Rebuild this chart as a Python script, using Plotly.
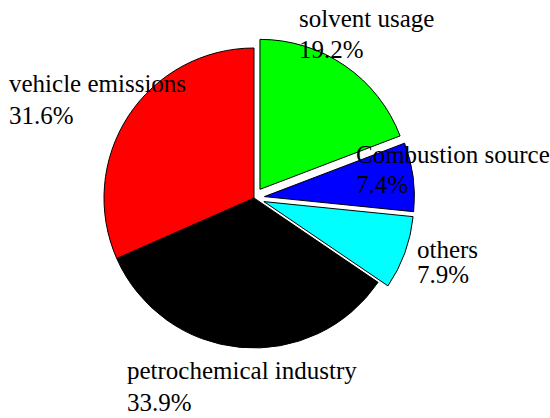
import plotly.graph_objects as go

categories = ["solvent usage", "Combustion source", "others", "petrochemical industry", "vehicle emissions"]
values = [19.2, 7.4, 7.9, 33.9, 31.6]
colors = ["#00FF00", "#0000FF", "#00FFFF", "#000000", "#FF0000"]
pulls = [0.07, 0.07, 0.07, 0, 0]

W, H = 550, 418
# label placement in pixels: left edge, baseline of name line, baseline of percent line
label_left = [298, 355, 416, 126, 8]
name_base = [26, 162, 257, 378, 92]
pct_base = [57, 192, 282, 410, 123]

cx, cy, D = 254, 198, 321
FS = 25

fig = go.Figure(go.Pie(
    labels=categories,
    values=values,
    sort=False,
    direction="clockwise",
    rotation=0,
    pull=pulls,
    marker=dict(colors=colors, line=dict(color="#000000", width=1)),
    textinfo="none",
    hoverinfo="label+percent",
    showlegend=False,
    domain=dict(x=[(cx - D / 2) / W, (cx + D / 2) / W],
                y=[1 - (cy + D / 2) / H, 1 - (cy - D / 2) / H]),
))

font = dict(family="Liberation Serif", size=FS, color="#000000")
for name, val, lx, nb, pb in zip(categories, values, label_left, name_base, pct_base):
    for txt, base in ((name, nb), (f"{val:.1f}%", pb)):
        fig.add_annotation(
            x=lx / W, y=1 - (base - 8) / H, xref="paper", yref="paper",
            text=txt, showarrow=False, xanchor="left", yanchor="middle",
            align="left", borderpad=0, font=font,
        )

fig.update_layout(
    width=W, height=H,
    margin=dict(l=0, r=0, t=0, b=0),
    paper_bgcolor="white", plot_bgcolor="white",
)

fig.write_html("out.html", config={"displayModeBar": False},
               post_script="document.body.style.margin='0px';")
